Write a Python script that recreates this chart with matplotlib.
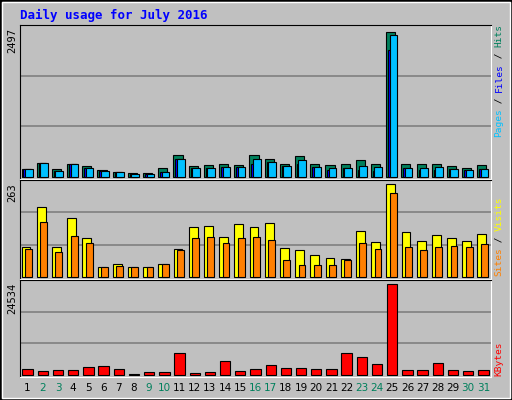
import matplotlib
matplotlib.use('Agg')
import matplotlib.pyplot as plt
import numpy as np
from matplotlib.patches import Rectangle

days = np.arange(1, 32)
weekend = [2, 3, 9, 10, 16, 17, 23, 24, 30, 31]

hits = [130, 243, 130, 226, 181, 113, 90, 62, 56, 158, 367, 181, 198, 226, 198, 367,
        311, 226, 350, 226, 198, 215, 282, 215, 2497, 215, 215, 226, 181, 147, 198]
files = [125, 243, 107, 215, 158, 96, 73, 45, 40, 90, 311, 158, 158, 175, 175, 220,
         260, 192, 215, 175, 120, 158, 110, 100, 2192, 158, 120, 120, 141, 124, 141]
pages = [130, 243, 107, 215, 158, 96, 73, 45, 40, 90, 311, 158, 158, 175, 175, 311,
         260, 192, 294, 175, 158, 158, 192, 175, 2446, 158, 158, 175, 141, 124, 141]
visits = [84, 197, 84, 166, 109, 29, 38, 27, 27, 38, 78, 140, 143, 112, 149, 140,
          152, 81, 75, 61, 55, 52, 129, 98, 263, 126, 101, 118, 109, 101, 121]
sites = [78, 155, 72, 115, 95, 29, 32, 27, 27, 38, 75, 109, 112, 95, 109, 112,
         106, 49, 35, 35, 35, 49, 95, 78, 237, 84, 75, 86, 89, 86, 92]
kbytes = [1700, 1160, 1430, 1430, 2240, 2500, 1700, 360, 900, 900, 6000, 630, 900, 3850,
          1160, 1700, 2770, 1970, 1970, 1700, 1700, 6000, 4920, 3040, 24534, 1430, 1430,
          3310, 1430, 1160, 1430]

W, H = 512, 400
fig = plt.figure(figsize=(W / 100, H / 100), dpi=100)
fig.patch.set_facecolor('#c0c0c0')
mono = 'DejaVu Sans Mono'

# frame
fig.add_artist(Rectangle((0, 0), 1, 1, transform=fig.transFigure, fill=False,
                         edgecolor='black', linewidth=2))
fig.add_artist(Rectangle((2 / W, 2 / H), 1 - 4 / W, 1 - 4 / H, transform=fig.transFigure,
                         fill=False, edgecolor='white', linewidth=1))

fig.text(20 / W, 1 - 15 / H, 'Daily usage for July 2016', color='#0000ff',
         family=mono, weight='bold', fontsize=9, va='center')


def panel(top, bottom):
    ax = fig.add_axes([20 / W, 1 - bottom / H, 471 / W, (bottom - top) / H])
    ax.set_facecolor('#c0c0c0')
    ax.set_xlim(0.5, 31.5)
    ax.set_xticks([])
    ax.set_yticks([])
    for s in ax.spines.values():
        s.set_color('black')
    ax.spines['right'].set_color('white')
    ax.spines['bottom'].set_color('white')
    return ax


def grid(ax, ymax):
    for f in (1 / 3, 2 / 3):
        ax.axhline(ymax * f, color='#808080', linewidth=1.2, zorder=0)


def maxlabel(val, y_top):
    fig.text(12 / W, 1 - y_top / H, str(val), rotation=90, family=mono, fontsize=7.5,
             ha='center', va='top')


bk = dict(edgecolor='black', linewidth=0.8)

# top panel
ax1 = panel(25, 179)
top1 = max(hits) / 0.955
ax1.set_ylim(-top1 * 0.015, top1)
grid(ax1, top1)
ax1.bar(days - 0.1, hits, width=0.6, color='#00805c', **bk)
ax1.bar(days - 0.02, files, width=0.5, color='#0000ff', **bk)
ax1.bar(days + 0.08, pages, width=0.5, color='#00c0ff', **bk)
maxlabel(max(hits), 28)

# middle panel
ax2 = panel(180, 279)
top2 = max(visits) / 0.96
ax2.set_ylim(-top2 * 0.02, top2)
grid(ax2, top2)
ax2.bar(days - 0.1, visits, width=0.58, color='#ffff00', **bk)
ax2.bar(days + 0.06, sites, width=0.45, color='#ff8000', **bk)
maxlabel(max(visits), 183)

# bottom panel
ax3 = panel(280, 377)
top3 = max(kbytes) / 0.96
ax3.set_ylim(-top3 * 0.02, top3)
grid(ax3, top3)
ax3.bar(days, kbytes, width=0.68, color='#ff0000', **bk)
maxlabel(max(kbytes), 283)

# day labels
for d in days:
    x = 20 / W + (d - 0.5) / 31 * 471 / W
    fig.text(x, 1 - 388 / H, str(d), ha='center', va='center', fontsize=7.5,
             color='#00805c' if d in weekend else 'black')


def side(parts, y_bottom):
    y = y_bottom
    for txt, col in parts:
        fig.text(499 / W, 1 - y / H, txt, rotation=90, color=col, family=mono,
                 fontsize=6.8, ha='center', va='bottom')
        y -= len(txt) * 5.65


side([('Pages', '#00c0ff'), (' / ', 'black'), ('Files', '#0000ff'),
      (' / ', 'black'), ('Hits', '#00805c')], 137)
side([('Sites', '#ff8000'), (' / ', 'black'), ('Visits', '#ffff00')], 276)
side([('KBytes', '#ff0000')], 376)

fig.savefig('out.png', dpi=100, facecolor=fig.get_facecolor())
